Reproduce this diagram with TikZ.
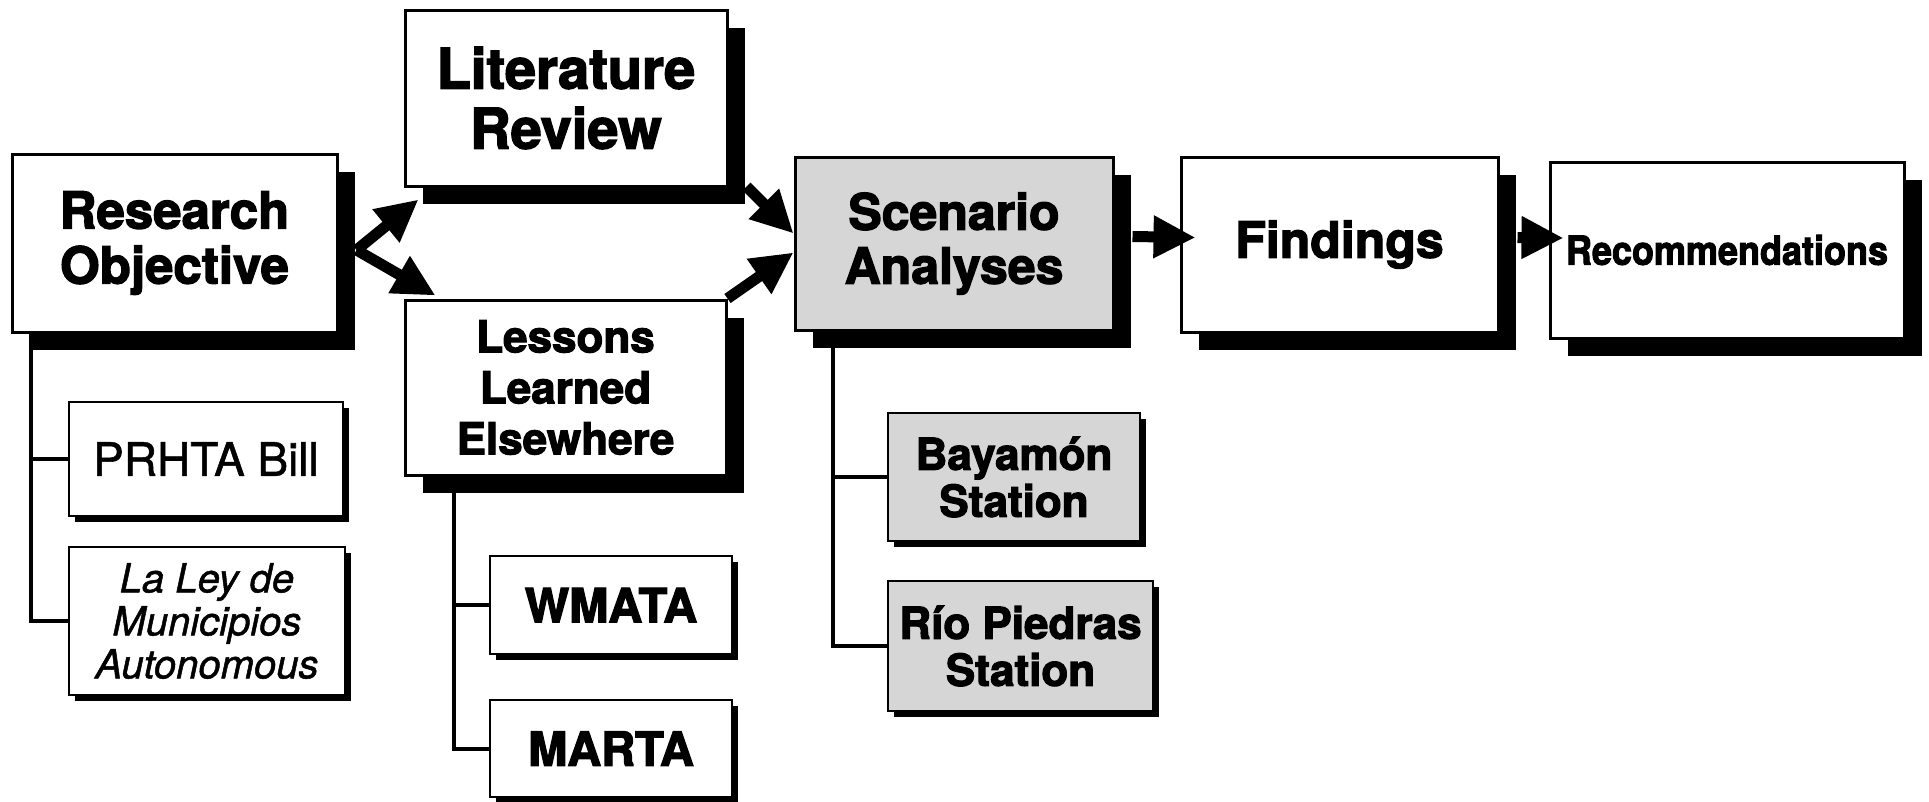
\documentclass[tikz,border=0pt]{standalone}
\usepackage{fontspec}
\setmainfont{TeX Gyre Heros}[FakeBold=1.2, BoldFeatures={FakeBold=2.6}]
\usetikzlibrary{arrows.meta,shadows}
\begin{document}
\begin{tikzpicture}[x=1pt,y=-1pt,
  bigbox/.style={draw, line width=3pt, fill=white, inner sep=0pt, align=center,
    drop shadow={shadow xshift=18pt, shadow yshift=-18pt, fill=black, opacity=1}},
  smallbox/.style={draw, line width=2.5pt, fill=white, inner sep=0pt, align=center,
    drop shadow={shadow xshift=6pt, shadow yshift=-6pt, fill=black, opacity=1}},
  stipple/.style={fill=black!16},
  arr/.style={line width=11pt, -{Triangle[length=42pt,width=40pt]}},
  tree/.style={line width=4pt}]
\useasboundingbox (0,0) rectangle (1929,801);

% main boxes
\node[bigbox, minimum width=325pt, minimum height=178pt,
  font=\bfseries\fontsize{51}{55}\selectfont] (ro) at (174.5,243) {Research\\Objective};
\node[bigbox, minimum width=322pt, minimum height=176pt,
  font=\bfseries\fontsize{56}{60}\selectfont] (lit) at (566,98) {Literature\\Review};
\node[bigbox, minimum width=321pt, minimum height=175pt,
  font=\bfseries\fontsize{44}{51}\selectfont] (les) at (565.5,387.5) {Lessons\\Learned\\Elsewhere};
\node[bigbox, stipple, minimum width=318pt, minimum height=173pt,
  font=\bfseries\fontsize{50}{54}\selectfont] (sc) at (954,243.5) {Scenario\\Analyses};
\node[bigbox, minimum width=317pt, minimum height=175pt,
  font=\bfseries\fontsize{50}{54}\selectfont] (fi) at (1339.5,244.5) {Findings};
\node[bigbox, minimum width=354pt, minimum height=176pt,
  font=\bfseries\fontsize{40}{44}\selectfont] (rec) at (1727,250) {\scalebox{0.9}[1]{Recommendations}};

% sub boxes
\node[smallbox, minimum width=274pt, minimum height=114pt,
  font=\fontsize{46}{50}\selectfont] (prhta) at (206,459) {PRHTA Bill};
\node[smallbox, minimum width=276pt, minimum height=148pt,
  font=\itshape\fontsize{40}{43}\selectfont] (ley) at (207,621) {La Ley de\\Municipios\\Autonomous};
\node[smallbox, minimum width=242pt, minimum height=98pt,
  font=\bfseries\fontsize{47}{50}\selectfont] (wmata) at (611,605) {WMATA};
\node[smallbox, minimum width=242pt, minimum height=97pt,
  font=\bfseries\fontsize{47}{50}\selectfont] (marta) at (611,748.5) {MARTA};
\node[smallbox, stipple, minimum width=252pt, minimum height=128pt,
  font=\bfseries\fontsize{44}{47}\selectfont] (bay) at (1014,477) {Bayamón\\Station};
\node[smallbox, stipple, minimum width=265pt, minimum height=130pt,
  font=\bfseries\fontsize{44}{47}\selectfont] (rio) at (1020.5,646) {Río Piedras\\Station};

% trees
\draw[tree] ([xshift=20pt]ro.south west) |- (ley.west);
\draw[tree] (prhta.west) -| ([xshift=20pt]ro.south west);
\draw[tree] ([xshift=50pt]les.south west) |- (marta.west);
\draw[tree] (wmata.west) -| ([xshift=50pt]les.south west);
\draw[tree] ([xshift=39pt]sc.south west) |- (rio.west);
\draw[tree] (bay.west) -| ([xshift=39pt]sc.south west);

% arrows
\coordinate (fork) at ([xshift=18pt,yshift=-7pt]ro.east);
\draw[arr] (fork) -- ([xshift=15pt,yshift=-12pt]lit.south west);
\draw[arr] (fork) -- ([xshift=32pt,yshift=3pt]les.north west);
\draw[arr] ([xshift=18pt,yshift=1pt]lit.south east) -- ([yshift=10pt]sc.west);
\draw[arr] (les.north east) -- ([yshift=-9pt]sc.west);
\draw[arr] ([xshift=18pt,yshift=7pt]sc.east) -- ([xshift=16pt,yshift=7pt]fi.west);
\draw[arr] ([xshift=18pt,yshift=7pt]fi.east) -- ([xshift=15pt,yshift=12pt]rec.west);
\end{tikzpicture}
\end{document}
